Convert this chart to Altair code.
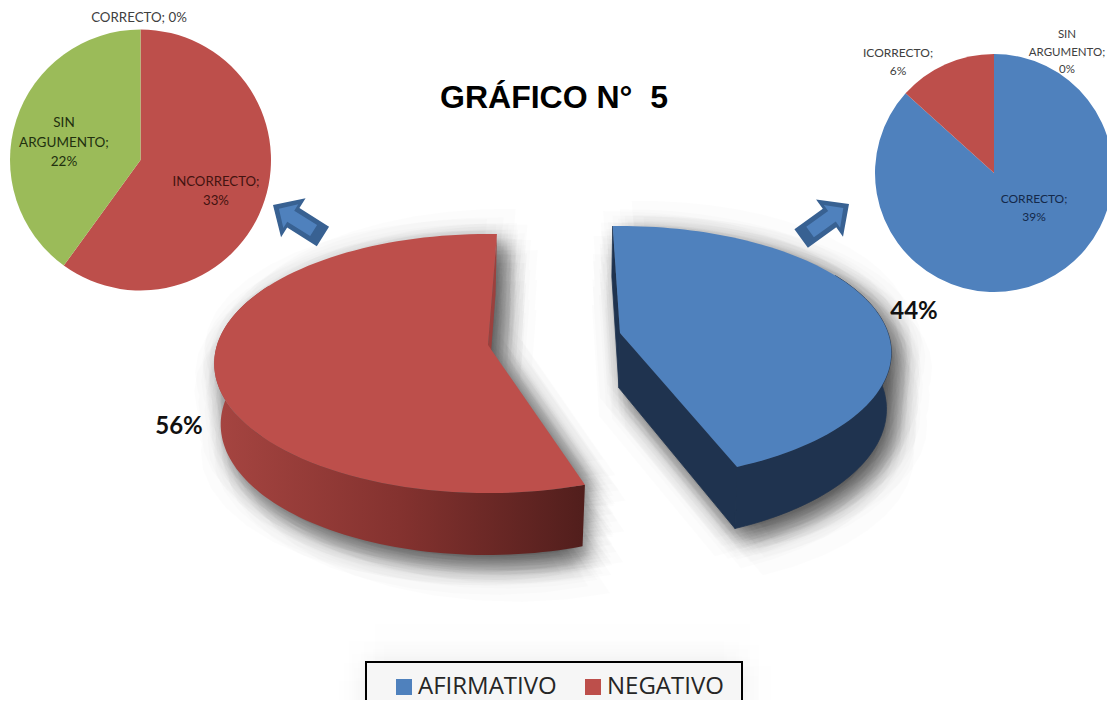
import math
import altair as alt
import pandas as pd

# ---- data ----
main_categories = ["AFIRMATIVO", "NEGATIVO"]
main_shares = [44.4, 55.6]
main_labels = ["44%", "56%"]
main_colors = ["#4f81bd", "#bd4f4b"]

sub_categories = ["CORRECTO", "INCORRECTO", "SIN ARGUMENTO"]
sub_colors = ["#4f81bd", "#bd4f4b", "#9bbb59"]
negative_values = [0, 33, 22]
affirmative_values = [39, 6, 0]

title_text = "GRÁFICO N°\u00a0\u00a05"
OX, OY = 8, 8   # page margin


def px(v):
    return alt.value(v - OX)


def py(v):
    return alt.value(v - OY)


# ---- perspective view of a disc ----
def point(p, deg):
    t = math.radians(deg)
    X, Z = math.sin(t), math.cos(t)
    s = 1 / (1 + p["k"] * Z)
    return (p["ax"] + p["rx"] * X * s, p["ay"] - p["ry"] * Z * s)


def arc_points(p, a, b, n=90):
    return [point(p, a + (b - a) * i / n) for i in range(n + 1)]


def ring_of(points):
    pts = [[round(q[0], 2), round(q[1], 2)] for q in points]
    pts.append(pts[0])
    return pts


def feature(points, name="x"):
    return {"type": "Feature", "properties": {"name": name},
            "geometry": {"type": "Polygon", "coordinates": [ring_of(points)]}}


def multi_feature(shapes, dx, dy):
    polys = [[ring_of([(x + dx, y + dy) for x, y in s])] for s in shapes]
    return {"type": "Feature", "properties": {"name": "shadow"},
            "geometry": {"type": "MultiPolygon", "coordinates": polys}}


blue_top = dict(ax=620, ay=333, rx=268, ry=123.6, k=0.155)
blue_bot = dict(ax=619, ay=388, rx=264, ry=129, k=0.16)
red_top = dict(ax=488, ay=345, rx=271, ry=126.9, k=0.143)
red_bot = dict(ax=487, ay=404, rx=263, ry=127.3, k=0.157)

blue_a = -1.8
blue_b = blue_a + main_shares[0] * 3.6
red_a = 162.0
red_b = red_a + main_shares[1] * 3.6

blue_face = [(blue_top["ax"], blue_top["ay"])] + arc_points(blue_top, blue_a, blue_b)
red_face = [(red_top["ax"], red_top["ay"])] + arc_points(red_top, red_a, red_b)

blue_outer = arc_points(blue_top, 60, blue_b) + arc_points(blue_bot, blue_b, 60)
red_outer = arc_points(red_top, red_a, 300) + arc_points(red_bot, 300, red_a)


def sector(p, a, b, n=24):
    return [(p["ax"], p["ay"])] + arc_points(p, a, b, n)


def mix(s1, s2):
    return [((a[0] + b[0]) / 2, (a[1] + b[1]) / 2) for a, b in zip(s1, s2)]


def cut(top, bot, deg):
    return [(top["ax"], top["ay"]), point(top, deg), point(bot, deg), (bot["ax"], bot["ay"])]


# ---- block arrows ----
def arrow(tip, tail, length, head_w, head_len, stem_w):
    ux, uy = tail[0] - tip[0], tail[1] - tip[1]
    d = math.hypot(ux, uy)
    ux, uy = ux / d, uy / d
    nx, ny = -uy, ux

    def at(a, b):
        return (tip[0] + ux * a + nx * b, tip[1] + uy * a + ny * b)
    return [at(0, 0), at(head_len, head_w / 2), at(head_len, stem_w / 2),
            at(length, stem_w / 2), at(length, -stem_w / 2),
            at(head_len, -stem_w / 2), at(head_len, -head_w / 2)]


def geo(features, **mark):
    mark.setdefault("strokeWidth", 0)
    return alt.Chart(alt.InlineData(values=features)).mark_geoshape(**mark).project(
        type="identity", scale=1, translate=[-OX, -OY])


# soft shadow: many faint copies spread like a Gaussian blur
def blurred(shapes, dx, dy, sigma, strength, copies=80):
    golden = math.pi * (3 - math.sqrt(5))
    feats = []
    for i in range(copies):
        r = sigma * math.sqrt(-2 * math.log(1 - (i + 0.5) / copies))
        a = i * golden
        feats.append(multi_feature(shapes, dx + r * math.cos(a), dy + r * math.sin(a)))
    alpha = 1 - (1 - strength) ** (1 / copies)
    return geo(feats, fill="#000000", fillOpacity=alpha)


layers = []

r_t, r_b = sector(red_top, red_a, red_b), sector(red_bot, red_a, red_b)
b_t, b_b = sector(blue_top, blue_a, blue_b), sector(blue_bot, blue_a, blue_b)
layers.append(blurred([r_t, mix(r_t, r_b), r_b], 9, 10, 13, 0.6))
layers.append(blurred([b_t, mix(b_t, b_b), b_b], 9, 10, 13, 0.6))

box = [(366, 662), (742, 662), (742, 730), (366, 730)]
layers.append(blurred([box], 0, 0, 14, 0.12, copies=24))

# walls
layers.append(geo([feature(blue_outer), feature(cut(blue_top, blue_bot, blue_a)),
                   feature(cut(blue_top, blue_bot, blue_b))],
                  fill="#1f334f", stroke="#1f334f", strokeWidth=0.8))
layers.append(geo([feature(cut(red_top, red_bot, red_b))], fill="#9c403d"))
layers.append(geo([feature(red_outer)], fill={
    "gradient": "linear", "x1": 0, "y1": 0, "x2": 1, "y2": 0,
    "stops": [{"offset": 0, "color": "#a64541"}, {"offset": 0.5, "color": "#84322f"},
              {"offset": 1, "color": "#511e1c"}]}))

# legend box
layers.append(alt.Chart(pd.DataFrame({"a": [0]})).mark_rect(
    fill="#f6f6f6", stroke="#000000", strokeWidth=2).encode(
    x=px(366), x2=px(742), y=py(662), y2=py(730)))

# top faces, carrying the colour legend
faces = [feature(blue_face, main_categories[0]), feature(red_face, main_categories[1])]
layers.append(geo(faces).encode(
    color=alt.Color("properties.name:N",
                    scale=alt.Scale(domain=main_categories, range=main_colors),
                    legend=alt.Legend(orient="none", legendX=384, legendY=667, direction="horizontal",
                                      columns=2, title=None, symbolType="square", symbolSize=256,
                                      symbolStrokeWidth=0, labelFontSize=24, labelFont="Open Sans",
                                      labelColor="#262626", labelOffset=2, columnPadding=24,
                                      padding=0, zindex=1))))

# arrows
a1 = ((273, 205), (323, 236.5))
a2 = ((849, 204), (800.5, 239))
for tip, tail in (a1, a2):
    layers.append(geo([feature(arrow(tip, tail, 59, 46, 24, 23))], fill="#386192"))
    ux, uy = tail[0] - tip[0], tail[1] - tip[1]
    d = math.hypot(ux, uy)
    inner_tip = (tip[0] + ux / d * 7, tip[1] + uy / d * 7)
    layers.append(geo([feature(arrow(inner_tip, tail, 41, 28, 14, 13))], fill="#4f81bd"))


# detail pies
def sub_pie(values, cx, cy, r):
    df = pd.DataFrame({"cat": sub_categories, "val": values})
    return alt.Chart(df).mark_arc(outerRadius=r).encode(
        theta=alt.Theta("val:Q", stack=True),
        order=alt.Order("cat:N"),
        color=alt.Color("cat:N", scale=alt.Scale(domain=sub_categories, range=sub_colors), legend=None),
        x=px(cx), y=py(cy))


layers.append(sub_pie(negative_values, 140.5, 160, 130.5))
layers.append(sub_pie(affirmative_values, 994, 173, 119))


def label(text, x, y, size, color, font="Lato", weight="normal", spacing=18):
    return alt.Chart(pd.DataFrame({"t": [text]})).mark_text(
        font=font, fontSize=size, fontWeight=weight, color=color, lineBreak="\n",
        lineHeight=spacing, align="center", baseline="middle").encode(
        text="t:N", x=px(x), y=py(y))


layers += [
    label(title_text, 554, 98, 32, "#000000", font="Liberation Sans", weight="bold"),
    label(main_labels[0], 914, 312, 24, "#111111", weight="bold"),
    label(main_labels[1], 179, 427, 24, "#111111", weight="bold"),
    label(f"{sub_categories[0]}; {negative_values[0]}%", 139, 18, 13.3, "#404040"),
    label(f"SIN\nARGUMENTO;\n{negative_values[2]}%", 64, 123, 13.5, "#22300f", spacing=19.5),
    label(f"{sub_categories[1]};\n{negative_values[1]}%", 216, 182, 13.2, "#431310", spacing=19),
    label(f"ICORRECTO;\n{affirmative_values[1]}%", 898, 53, 12, "#404040", spacing=17.5),
    label(f"SIN\nARGUMENTO;\n{affirmative_values[2]}%", 1067, 35, 11.5, "#404040", spacing=17.5),
    label(f"{sub_categories[0]};\n{affirmative_values[0]}%", 1034, 199, 12, "#14294a", spacing=17.5),
]

chart = alt.layer(*layers).resolve_scale(color="independent", theta="independent").properties(
    width=1099, height=692, padding=0, background="#ffffff",
    autosize=alt.AutoSizeParams(type="none")).configure_view(stroke=None)

chart.save("out.html", embed_options={"renderer": "svg", "actions": False})
